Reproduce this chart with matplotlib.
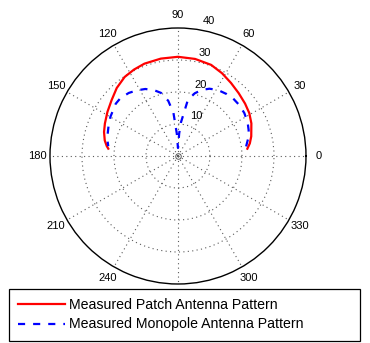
import numpy as np
import matplotlib
matplotlib.use("Agg")
import matplotlib.pyplot as plt
from matplotlib import transforms

# ---- data (degrees, radius) ----
patch_theta = [6, 10, 15, 24, 31, 38, 46, 54, 62, 70, 80, 90, 100, 110, 117, 124,
               132, 140, 148, 156, 162, 168, 172, 174]
patch_r = [21.8, 22.8, 23.7, 25.1, 26.0, 26.6, 27.3, 28.2, 29.3, 30.3, 30.8, 31.0,
           30.9, 30.7, 30.3, 29.8, 28.6, 27.1, 26.0, 25.0, 24.3, 23.4, 22.5, 21.9]

mono_theta = [8, 14, 20, 26, 33, 40, 46, 52, 59, 65, 70, 75, 80, 85, 87, 89, 90, 91,
              93, 96, 100, 105, 110, 116, 122, 128, 135, 140, 145, 150, 157, 163, 168, 172]
mono_r = [21.5, 22.6, 23.5, 24.2, 24.7, 24.9, 24.9, 24.6, 24.1, 23.2, 22.0, 20.3, 17.8,
          10.5, 7.0, 3.0, 2.5, 3.0, 7.0, 13.5, 17.5, 20.4, 21.9, 23.3, 24.2, 25.0, 25.5,
          25.4, 24.8, 24.4, 23.6, 23.0, 22.5, 22.0]

r_ticks = [10, 20, 30, 40]
theta_ticks = [0, 30, 60, 90, 120, 150, 180, 210, 240, 270, 300, 330]
labels = ["Measured Patch Antenna Pattern", "Measured Monopole Antenna Pattern"]

FONT = "Liberation Sans"
plt.rcParams['font.family'] = [FONT, 'DejaVu Sans']

fig = plt.figure(figsize=(3.70, 3.43), dpi=100)
ax = fig.add_axes([0.1351, 0.172, 0.6919, 0.7464], projection='polar')
rmax = 40
ax.set_ylim(0, rmax)
ax.set_thetagrids(theta_ticks)
ax.set_rgrids(r_ticks[:-1])
ax.set_xticklabels([])
ax.set_yticklabels([])
ax.grid(True, color='0.35', linestyle=(0, (1, 3)), linewidth=0.8)
ax.spines['polar'].set_linewidth(1.0)
ax.spines['polar'].set_color('black')

l1, = ax.plot(np.deg2rad(patch_theta), patch_r, color='red', lw=1.6)
l2, = ax.plot(np.deg2rad(mono_theta), mono_r, color='blue', lw=1.6,
              linestyle=(0, (3.2, 3.6)))
ax.plot([0], [0], marker='o', ms=4, mfc='none', mec='0.35', mew=0.7)

# angle labels
for t in theta_ticks:
    ax.text(np.deg2rad(t), rmax * 1.1, str(t), ha='center', va='center',
            fontsize=8, clip_on=False)

# radial labels
off = transforms.offset_copy(ax.transData, fig=fig, x=6, y=2, units='points')
for r in r_ticks:
    ax.text(np.deg2rad(82.5), r, str(r), ha='left', va='bottom', fontsize=8,
            transform=off, clip_on=False)

leg = fig.legend(handles=[l1, l2], labels=labels, loc='lower left',
                 bbox_to_anchor=(0.0243, 0.0067, 0.9486, 0.153), mode='expand',
                 borderaxespad=0, fontsize=10.2, handlelength=3.3, handletextpad=0.32,
                 labelspacing=0.38, borderpad=0.65, fancybox=False, framealpha=1)
leg.get_frame().set_edgecolor('black')
leg.get_frame().set_linewidth(0.9)

fig.savefig("out.png", dpi=100)
